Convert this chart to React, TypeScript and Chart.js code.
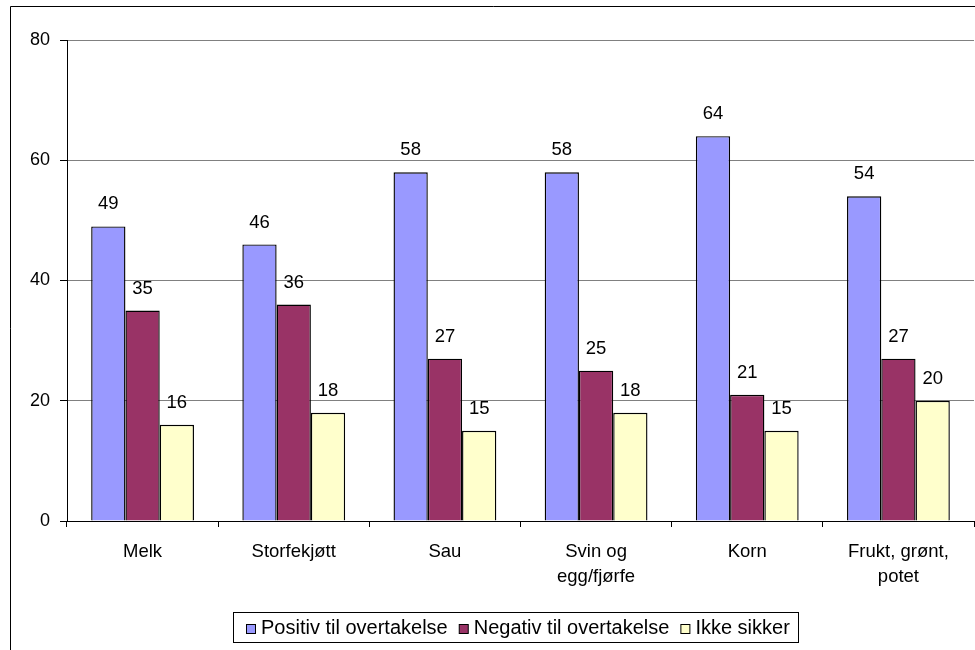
import React, { useEffect, useRef } from "react";
import { Chart, registerables } from "chart.js";

Chart.register(...registerables);

const categories: (string | string[])[] = [
  "Melk",
  "Storfekjøtt",
  "Sau",
  ["Svin og", "egg/fjørfe"],
  "Korn",
  ["Frukt, grønt,", "potet"],
];
const positiv = [49, 46, 58, 58, 64, 54];
const negativ = [35, 36, 27, 25, 21, 27];
const ikkeSikker = [16, 18, 15, 18, 15, 20];
const seriesLabels = ["Positiv til overtakelse", "Negativ til overtakelse", "Ikke sikker"];
const seriesColors = ["#9999FF", "#993366", "#FFFFCC"];
const yTicks = [0, 20, 40, 60, 80];

const FONT = "'Liberation Sans', Arial, sans-serif";

const framePlugin = {
  id: "frame",
  beforeDraw(chart: any) {
    const ctx = chart.ctx;
    ctx.save();
    ctx.fillStyle = "#fff";
    ctx.fillRect(0, 0, chart.width, chart.height);
    ctx.strokeStyle = "#000";
    ctx.lineWidth = 1;
    ctx.beginPath();
    ctx.moveTo(10.5, chart.height + 2);
    ctx.lineTo(10.5, 6.5);
    ctx.lineTo(chart.width + 2, 6.5);
    ctx.stroke();
    ctx.restore();
  },
};

const labelPlugin = {
  id: "valueLabels",
  afterDatasetsDraw(chart: any) {
    const ctx = chart.ctx;
    ctx.save();
    ctx.font = `18.5px ${FONT}`;
    ctx.fillStyle = "#000";
    ctx.textAlign = "center";
    ctx.textBaseline = "middle";
    chart.data.datasets.forEach((ds: any, i: number) => {
      const meta = chart.getDatasetMeta(i);
      meta.data.forEach((el: any, j: number) => {
        ctx.fillText(String(ds.data[j]), el.x, el.y - 22);
      });
    });
    ctx.restore();
  },
};

const legendPlugin = {
  id: "customLegend",
  afterDraw(chart: any) {
    const ctx = chart.ctx;
    ctx.save();
    ctx.font = `20px ${FONT}`;
    const box = 9;
    const gapBoxText = 6;
    const gapItems = 11;
    const padLeft = 13;
    const padRight = 8;
    let total = padLeft + padRight;
    const widths = chart.data.datasets.map((ds: any) => ctx.measureText(ds.label).width);
    widths.forEach((w: number, i: number) => {
      total += box + gapBoxText + w + (i < widths.length - 1 ? gapItems : 0);
    });
    const left = 233;
    const top = 612;
    const h = 30;
    ctx.strokeStyle = "#000";
    ctx.lineWidth = 1;
    ctx.strokeRect(left + 0.5, top + 0.5, Math.round(total), h);
    let x = left + padLeft;
    const cy = top + h / 2 + 1;
    chart.data.datasets.forEach((ds: any, i: number) => {
      const by = Math.round(cy - box / 2) + 0.5;
      ctx.fillStyle = ds.backgroundColor;
      ctx.fillRect(x + 0.5, by, box, box);
      ctx.strokeStyle = "#000";
      ctx.strokeRect(x + 0.5, by, box, box);
      x += box + gapBoxText;
      ctx.fillStyle = "#000";
      ctx.textBaseline = "middle";
      ctx.textAlign = "left";
      ctx.fillText(ds.label, x, cy);
      x += widths[i] + gapItems;
    });
    ctx.restore();
  },
};

export default function App() {
  const ref = useRef<HTMLCanvasElement | null>(null);
  useEffect(() => {
    document.body.style.margin = "0";
    const canvas = ref.current;
    if (!canvas) return;
    const chart = new Chart(canvas, {
      type: "bar",
      data: {
        labels: categories,
        datasets: [positiv, negativ, ikkeSikker].map((d, i) => ({
          label: seriesLabels[i],
          data: d,
          backgroundColor: seriesColors[i],
          borderColor: "#000",
          borderWidth: 1.4,
          barPercentage: 1,
          categoryPercentage: 0.68,
        })),
      },
      options: {
        animation: false,
        responsive: false,
        devicePixelRatio: 1,
        layout: { padding: { left: 0, top: 40, right: 1, bottom: 0 } },
        plugins: {
          legend: { display: false },
          tooltip: { enabled: false },
        },
        scales: {
          x: {
            grid: {
              drawOnChartArea: false,
              drawTicks: true,
              tickLength: 6,
              tickColor: "#000",
              offset: true,
            },
            border: { display: true, color: "#000" },
            ticks: {
              color: "#000",
              font: { family: FONT, size: 18.5, lineHeight: 1.35 },
              padding: 12,
              maxRotation: 0,
              autoSkip: false,
            },
            afterFit(scale: any) {
              scale.height = 129;
            },
          },
          y: {
            min: 0,
            max: 80,
            afterBuildTicks(scale: any) {
              scale.ticks = yTicks.map((v) => ({ value: v }));
            },
            grid: {
              color: "#808080",
              drawTicks: true,
              tickLength: 7,
              tickColor: "#000",
            },
            border: { display: true, color: "#000" },
            ticks: {
              color: "#000",
              font: { family: FONT, size: 18 },
              padding: 10,
            },
            afterFit(scale: any) {
              scale.width = 67;
            },
          },
        },
      },
      plugins: [framePlugin, labelPlugin, legendPlugin],
    });
    return () => chart.destroy();
  }, []);
  return (
    <div style={{ width: 975, height: 650 }}>
      <canvas ref={ref} width={975} height={650} style={{ display: "block" }} />
    </div>
  );
}
